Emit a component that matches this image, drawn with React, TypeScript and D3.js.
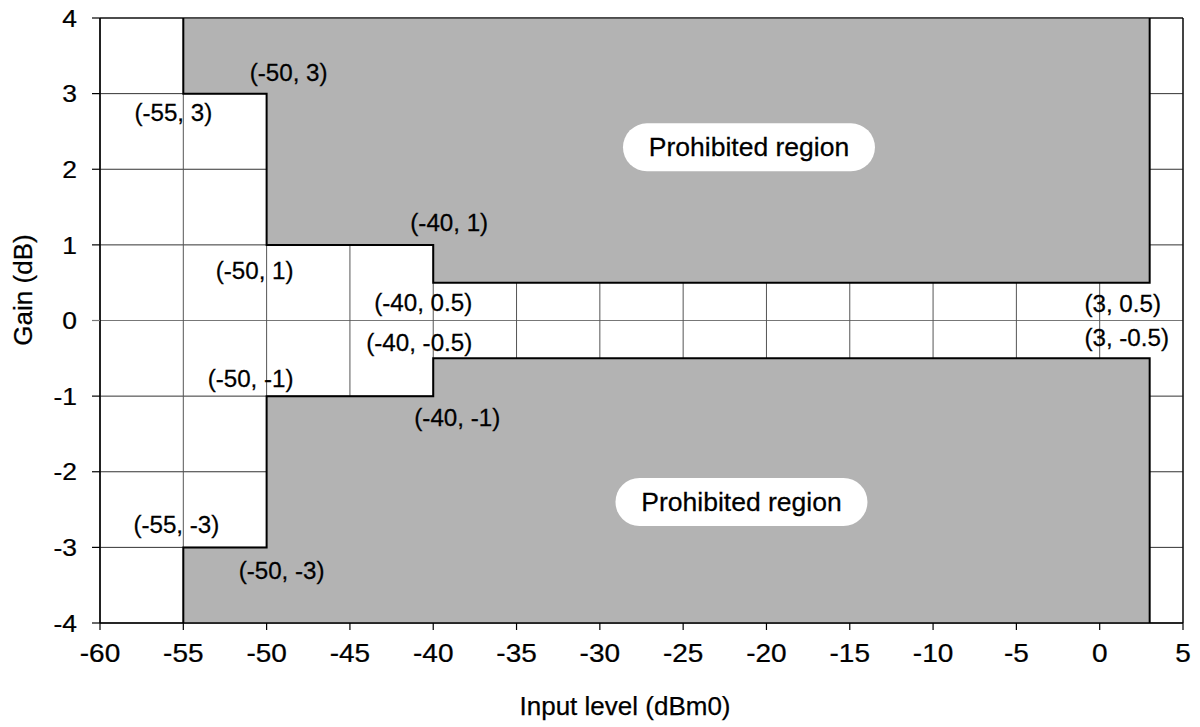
import React, { useEffect } from "react";
import * as d3 from "d3";

// ---- data ----
const xTicks = [-60, -55, -50, -45, -40, -35, -30, -25, -20, -15, -10, -5, 0, 5];
const yTicks = [-4, -3, -2, -1, 0, 1, 2, 3, 4];
const xDomain = [-60, 5];
const yDomain = [-4, 4];

// upper prohibited region boundary (input level dBm0, gain dB)
const upperRegion = [
  { x: -55, y: 4 },
  { x: -55, y: 3 },
  { x: -50, y: 3 },
  { x: -50, y: 1 },
  { x: -40, y: 1 },
  { x: -40, y: 0.5 },
  { x: 3, y: 0.5 },
  { x: 3, y: 4 },
];
// lower prohibited region boundary
const lowerRegion = [
  { x: -55, y: -4 },
  { x: -55, y: -3 },
  { x: -50, y: -3 },
  { x: -50, y: -1 },
  { x: -40, y: -1 },
  { x: -40, y: -0.5 },
  { x: 3, y: -0.5 },
  { x: 3, y: -4 },
];

// annotated corner points
const cornerPoints = [
  { x: -50, y: 3 },
  { x: -55, y: 3 },
  { x: -40, y: 1 },
  { x: -50, y: 1 },
  { x: -40, y: 0.5 },
  { x: -40, y: -0.5 },
  { x: -50, y: -1 },
  { x: -40, y: -1 },
  { x: -55, y: -3 },
  { x: -50, y: -3 },
  { x: 3, y: 0.5 },
  { x: 3, y: -0.5 },
];
// pixel offsets of each corner label (layout only)
const cornerLabelOffsets = [
  [22, -13],
  [-10, 27],
  [16, -14],
  [-12, 34],
  [-10, 28],
  [-14, -7],
  [-16, -9],
  [24, 30],
  [-7, -14],
  [15, 32],
  [-27, 29],
  [-23, -12],
];

const regionLabels = ["Prohibited region", "Prohibited region"];
const regionLabelAnchors = [
  { x: -21.05, y: 2.29 },
  { x: -21.5, y: -2.4 },
];

const xTitle = "Input level (dBm0)";
const yTitle = "Gain (dB)";

// ---- layout ----
const W = 1200;
const H = 727;
const M = { left: 100, right: 17, top: 18, bottom: 104 };
const FONT = "'Liberation Sans', Arial, sans-serif";

const fmt = (v: number) => String(v);

function T(props: { x: number; y: number; size: number; anchor?: string; sx?: number; dy?: string; children: any }) {
  const { x, y, size, anchor = "middle", sx = 1, dy, children } = props;
  return (
    <text
      transform={`translate(${x},${y}) scale(${sx},1)`}
      dy={dy}
      textAnchor={anchor}
      fontSize={size}
      fill="#000"
      stroke="#000"
      strokeWidth={0.25}
    >
      {children}
    </text>
  );
}

export default function App() {
  useEffect(() => {
    document.body.style.margin = "0";
  }, []);

  const x = d3.scaleLinear().domain(xDomain).range([M.left, W - M.right]);
  const y = d3.scaleLinear().domain(yDomain).range([H - M.bottom, M.top]);

  const line = d3
    .line<{ x: number; y: number }>()
    .x((d) => x(d.x))
    .y((d) => y(d.y));

  const x0 = x(xDomain[0]);
  const x1 = x(xDomain[1]);
  const y0 = y(yDomain[0]);
  const y1 = y(yDomain[1]);

  return (
    <svg width={W} height={H} style={{ display: "block", background: "#fff" }} fontFamily={FONT}>
      <rect x={0} y={0} width={W} height={H} fill="#fff" />
      {/* grid lines */}
      {yTicks.map((t) => (
        <line key={"gy" + t} x1={x0} x2={x1} y1={y(t)} y2={y(t)} stroke={t === 0 ? "#777" : "#333"} strokeWidth={1} />
      ))}
      {xTicks.map((t) => (
        <line key={"gx" + t} x1={x(t)} x2={x(t)} y1={y0} y2={y1} stroke="#555" strokeWidth={1} />
      ))}
      {/* prohibited regions */}
      <path d={line(upperRegion) + "Z"} fill="#b3b3b3" stroke="none" />
      <path d={line(lowerRegion) + "Z"} fill="#b3b3b3" stroke="none" />
      <path d={line(upperRegion) || ""} fill="none" stroke="#000" strokeWidth={2} />
      <path d={line(lowerRegion) || ""} fill="none" stroke="#000" strokeWidth={2} />
      {/* frame */}
      <line x1={x0} x2={x1} y1={y1} y2={y1} stroke="#000" strokeWidth={1.2} />
      <line x1={x1} x2={x1} y1={y0} y2={y1} stroke="#000" strokeWidth={1.2} />
      <line x1={x0} x2={x0} y1={y0} y2={y1} stroke="#000" strokeWidth={1.6} />
      <line x1={x0} x2={x1} y1={y0} y2={y0} stroke="#000" strokeWidth={1.6} />
      {/* ticks */}
      {yTicks.map((t) => (
        <g key={"ty" + t}>
          <line x1={x0 - 8} x2={x0} y1={y(t)} y2={y(t)} stroke={t === 0 ? "#777" : "#000"} strokeWidth={1.2} />
          <T x={x0 - 23} y={y(t)} dy="0.36em" anchor="end" size={24} sx={1.1}>
            {fmt(t)}
          </T>
        </g>
      ))}
      {xTicks.map((t) => (
        <g key={"tx" + t}>
          <line x1={x(t)} x2={x(t)} y1={y0} y2={y0 + 7} stroke="#000" strokeWidth={1.2} />
          <T x={x(t)} y={y0 + 39} size={25} sx={1.12}>
            {fmt(t)}
          </T>
        </g>
      ))}
      {/* corner labels */}
      {cornerPoints.map((p, i) => (
        <T
          key={"cl" + i}
          x={x(p.x) + cornerLabelOffsets[i][0]}
          y={y(p.y) + cornerLabelOffsets[i][1]}
          size={23}
          sx={1.05}
        >
          {`(${fmt(p.x)}, ${fmt(p.y)})`}
        </T>
      ))}
      {/* region labels */}
      {regionLabels.map((s, i) => {
        const cx = x(regionLabelAnchors[i].x);
        const cy = y(regionLabelAnchors[i].y);
        const bw = 252;
        const bh = 48;
        return (
          <g key={"rl" + i}>
            <rect x={cx - bw / 2} y={cy - bh / 2} width={bw} height={bh} rx={24} ry={24} fill="#fff" />
            <T x={cx} y={cy} dy="0.35em" size={26} sx={1.02}>
              {s}
            </T>
          </g>
        );
      })}
      {/* axis titles */}
      <T x={625} y={715} size={26}>
        {xTitle}
      </T>
      <text
        transform={`translate(32, 290) rotate(-90)`}
        textAnchor="middle"
        fontSize={26}
        fill="#000"
        stroke="#000"
        strokeWidth={0.25}
      >
        {yTitle}
      </text>
    </svg>
  );
}
